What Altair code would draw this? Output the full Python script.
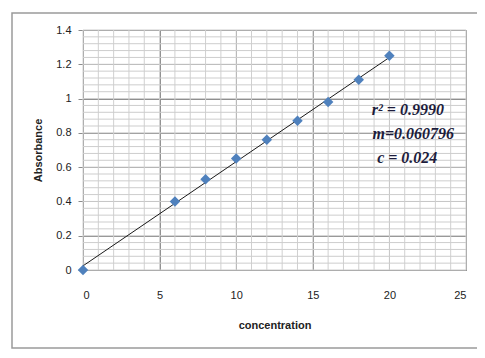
import altair as alt
import pandas as pd

# Data
conc = [0, 6, 8, 10, 12, 14, 16, 18, 20]
absorb = [0.0, 0.40, 0.53, 0.65, 0.76, 0.87, 0.98, 1.11, 1.25]

line_x = [0, 20]
line_y = [0.024, 1.240]

x_major = [0, 5, 10, 15, 20, 25]
y_major = [0, 0.2, 0.4, 0.6, 0.8, 1.0, 1.2, 1.4]
x_minor = list(range(0, 26))
y_minor = [round(i * 0.04, 2) for i in range(0, 36)]

ann_text = ["r\u00b2 = 0.9990", "m=0.060796", "c = 0.024"]
ann_x = [18.85, 18.9, 19.2]
ann_y = [0.935, 0.795, 0.655]

pts = pd.DataFrame({"conc": conc, "abs": absorb})
fit = pd.DataFrame({"conc": line_x, "abs": line_y})
xmin = pd.DataFrame({"conc": x_minor})
ymin = pd.DataFrame({"abs": y_minor})
ann = pd.DataFrame({"t": ann_text, "conc": ann_x, "abs": ann_y})

xs = alt.Scale(domain=[0, 25], nice=False, zero=False)
ys = alt.Scale(domain=[0, 1.4], nice=False, zero=False)

xaxis = alt.Axis(values=x_major, grid=True, gridColor="#8c8c8c", gridWidth=1,
                 ticks=False, domain=False, labelPadding=19, titlePadding=19,
                 labelFont="Liberation Sans", labelFontSize=11, labelColor="#222",
                 titleFont="Liberation Sans", titleFontSize=11, titleFontWeight="bold",
                 titleColor="#222")
yaxis = alt.Axis(values=y_major, grid=True, gridColor="#8c8c8c", gridWidth=1,
                 format=".1~f", ticks=True, tickSize=5, tickColor="#8c8c8c",
                 domain=True, domainColor="#8c8c8c", labelPadding=7, titlePadding=12,
                 labelFont="Liberation Sans", labelFontSize=11, labelColor="#222",
                 titleFont="Liberation Sans", titleFontSize=11, titleFontWeight="bold",
                 titleColor="#222")

X = lambda: alt.X("conc:Q", scale=xs, axis=xaxis, title="concentration")
Y = lambda: alt.Y("abs:Q", scale=ys, axis=yaxis, title="Absorbance")

frame = alt.Chart(pd.DataFrame({"a": [0]})).mark_rect(
    fillOpacity=0, stroke="#9a9a9a", strokeWidth=1.5
).encode(x=alt.value(-71), x2=alt.value(520), y=alt.value(-17), y2=alt.value(318))

vminor = alt.Chart(xmin).mark_rule(color="#d0d0d0", strokeWidth=1).encode(x=X())
hminor = alt.Chart(ymin).mark_rule(color="#cdcdcd", strokeWidth=1).encode(y=Y())

trend = alt.Chart(fit).mark_line(color="#1a1a1a", strokeWidth=1).encode(x=X(), y=Y())

points = alt.Chart(pts).mark_point(
    shape="diamond", filled=True, size=110, color="#4f81bd", opacity=1
).encode(x=X(), y=Y())

labels = alt.Chart(ann).mark_text(
    align="left", baseline="middle", font="Liberation Serif", fontSize=16,
    fontStyle="italic", fontWeight="bold", color="#1c1c3c"
).encode(x=X(), y=Y(), text="t:N")

chart = alt.layer(frame, vminor, hminor, trend, points, labels).properties(
    width=383, height=240,
    autosize=alt.AutoSizeParams(type="none"),
    padding={"left": 75, "top": 22, "right": 11, "bottom": 80},
    background="white",
).configure_view(stroke="#8c8c8c", strokeWidth=1)

chart.save("out.html", embed_options={"renderer": "svg", "actions": False})
